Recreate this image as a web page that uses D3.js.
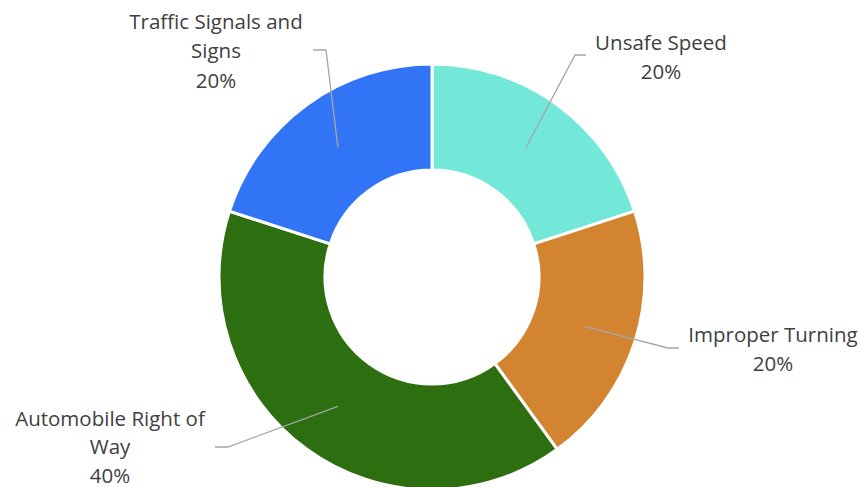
<!DOCTYPE html>
<html>
<head>
<meta charset="utf-8">
<script src="https://cdn.jsdelivr.net/npm/d3@7"></script>
<style>
  html, body { margin: 0; padding: 0; background: #fff; }
  svg { display: block; }
  text { font-family: "Open Sans", "Noto Sans", sans-serif; fill: #404040; }
</style>
</head>
<body>
<svg id="chart" width="861" height="487"></svg>
<script>
const categories = ["Unsafe Speed", "Improper Turning", "Automobile Right of Way", "Traffic Signals and Signs"];
const values = [20, 20, 40, 20];
const labelLines = [["Unsafe Speed", "20%"], ["Improper Turning", "20%"], ["Automobile Right of", "Way", "40%"], ["Traffic Signals and", "Signs", "20%"]];
const colors = ["#73E8D9", "#D38431", "#2C6E10", "#3175F6"];

// layout (label anchors / leader elbows)
const layout = [
  { elbow: [575, 55], end: [586, 55], tx: 661, ty: 43, lh: 29.3 },
  { elbow: [668, 348], end: [679, 348], tx: 773, ty: 335, lh: 29.3 },
  { elbow: [228, 447], end: [215, 447], tx: 110, ty: 419, lh: 28.3 },
  { elbow: [326, 50], end: [313, 50], tx: 216, ty: 22, lh: 29.3 }
];

const cx = 432, cy = 277, rOuter = 213, rInner = 107;
const svg = d3.select("#chart");
const g = svg.append("g").attr("transform", `translate(${cx},${cy})`);

const data = categories.map((c, i) => ({ name: c, value: values[i], i }));
const pie = d3.pie().value(d => d.value).sort(null);
const arcs = pie(data);
const arc = d3.arc().innerRadius(rInner).outerRadius(rOuter);
const midArc = d3.arc().innerRadius((rInner + rOuter) / 2).outerRadius((rInner + rOuter) / 2);

g.selectAll("path.slice").data(arcs).enter().append("path")
  .attr("class", "slice")
  .attr("d", arc)
  .attr("fill", d => colors[d.data.i])
  .attr("stroke", "#fff")
  .attr("stroke-width", 3)
  .attr("stroke-linejoin", "miter");

// leader lines
arcs.forEach((d, i) => {
  const c = midArc.centroid(d);
  const L = layout[i];
  const pts = [[c[0] + cx, c[1] + cy], L.elbow, L.end];
  svg.append("path")
    .attr("d", d3.line()(pts))
    .attr("fill", "none")
    .attr("stroke", "#A6A6A6")
    .attr("stroke-width", 1.3);
  const t = svg.append("text")
    .attr("text-anchor", "middle")
    .attr("font-size", 20.5);
  labelLines[i].forEach((line, k) => {
    t.append("tspan")
      .attr("x", L.tx)
      .attr("y", L.ty + k * L.lh)
      .attr("dy", "0.35em")
      .text(line);
  });
});
</script>
</body>
</html>
